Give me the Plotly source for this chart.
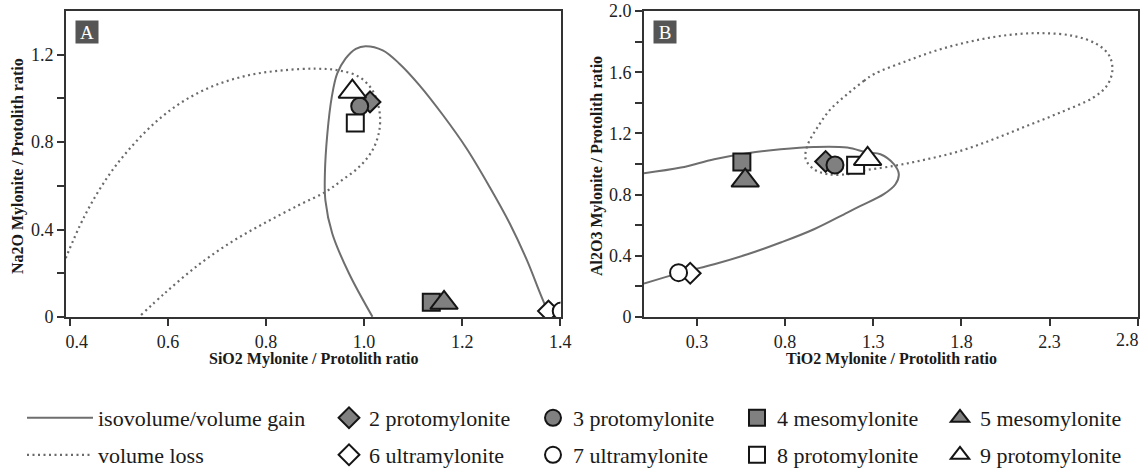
import plotly.graph_objects as go

# ---------------- data ----------------
samples = ["2 protomylonite", "3 protomylonite", "4 mesomylonite", "5 mesomylonite",
           "6 ultramylonite", "7 ultramylonite", "8 protomylonite", "9 protomylonite"]
sio2_ratio = [1.012, 0.991, 1.137, 1.163, 1.376, 1.402, 0.982, 0.976]
na2o_ratio = [0.984, 0.964, 0.067, 0.065, 0.027, 0.027, 0.888, 1.031]
tio2_ratio = [1.030, 1.083, 0.555, 0.574, 0.262, 0.196, 1.200, 1.268]
al2o3_ratio = [1.017, 0.994, 1.014, 0.892, 0.286, 0.290, 0.992, 1.034]

# isovolume / volume gain envelope, panel A (SiO2 vs Na2O)
gainA_x = [1.017, 0.969, 0.935, 0.921, 0.920, 0.925, 0.934, 0.945, 0.962, 0.983, 1.003,
           1.038, 1.072, 1.113, 1.161, 1.209, 1.256, 1.297, 1.332, 1.359, 1.376]
gainA_y = [0.001, 0.200, 0.382, 0.534, 0.656, 0.839, 1.006, 1.113, 1.182, 1.227, 1.239,
           1.220, 1.159, 1.060, 0.923, 0.771, 0.595, 0.428, 0.260, 0.108, 0.017]
# volume loss envelope, panel A
lossA_x = [0.387, 0.429, 0.477, 0.525, 0.579, 0.634, 0.696, 0.764, 0.832, 0.901, 0.949,
           0.990, 1.017, 1.031, 1.031, 1.017, 0.990, 0.955, 0.921, 0.867, 0.798, 0.730,
           0.662, 0.593, 0.545]
lossA_y = [0.245, 0.458, 0.641, 0.778, 0.900, 0.991, 1.060, 1.106, 1.128, 1.136, 1.128,
           1.098, 1.037, 0.946, 0.854, 0.763, 0.687, 0.626, 0.572, 0.512, 0.431, 0.344,
           0.238, 0.108, 0.009]
# isovolume / volume gain envelope, panel B (TiO2 vs Al2O3)
gainB_x = [0.0, 0.209, 0.398, 0.587, 0.775, 0.964, 1.153, 1.266, 1.341, 1.417, 1.445,
           1.426, 1.360, 1.228, 1.153, 0.964, 0.775, 0.587, 0.398, 0.209, 0.0]
gainB_y = [0.940, 0.977, 1.032, 1.071, 1.097, 1.112, 1.108, 1.075, 1.064, 0.999, 0.934,
           0.868, 0.803, 0.726, 0.683, 0.574, 0.487, 0.410, 0.345, 0.290, 0.218]
# volume loss envelope, panel B
lossB_x = [1.303, 1.247, 1.153, 1.058, 0.983, 0.926, 0.917, 0.964, 1.040, 1.153, 1.228,
           1.417, 1.606, 1.794, 1.983, 2.172, 2.360, 2.548, 2.624, 2.656, 2.639, 2.568,
           2.435, 2.247, 2.058, 1.869, 1.681, 1.492, 1.303]
lossB_y = [1.588, 1.544, 1.457, 1.359, 1.239, 1.119, 1.032, 0.966, 0.934, 0.934, 0.955,
           0.988, 1.032, 1.086, 1.163, 1.250, 1.337, 1.435, 1.511, 1.609, 1.708, 1.784,
           1.838, 1.856, 1.843, 1.806, 1.751, 1.675, 1.588]

xA_ticks = [0.4, 0.6, 0.8, 1.0, 1.2, 1.4]
yA_ticks = [0, 0.4, 0.8, 1.2]
yA_minor = [0.2, 0.6, 1.0]
xB_ticks = [0.3, 0.8, 1.3, 1.8, 2.3, 2.8]
yB_ticks = [0, 0.4, 0.8, 1.2, 1.6, 2.0]
yB_minor = [0.2, 0.6, 1.0, 1.4, 1.8]

# ---------------- styles ----------------
W, H = 1145, 476
SERIF = "'Liberation Serif', 'Times New Roman', Times, serif"
NB = "\u00a0"
symbols = ["diamond", "circle", "square", "triangle-up"] * 2
fills = ["#808080"] * 4 + ["#ffffff"] * 4
msizes = [16, 17, 17, 24] * 2
GAIN_COLOR = "#6e6e6e"
LOSS_COLOR = "#6a6a6a"
TICK_FONT = dict(family=SERIF, size=18, color="#222222")

def px_x(p):
    return p / W

def px_y(p):
    return (H - p) / H

fig = go.Figure()

# envelopes
fig.add_trace(go.Scatter(x=gainA_x, y=gainA_y, mode="lines", xaxis="x", yaxis="y",
                         line=dict(color=GAIN_COLOR, width=2, shape="spline", smoothing=1.0),
                         name="isovolume/volume gain", legend="legend", showlegend=True,
                         legendgroup="gain", hoverinfo="skip"))
fig.add_trace(go.Scatter(x=lossA_x, y=lossA_y, mode="lines", xaxis="x", yaxis="y",
                         line=dict(color=LOSS_COLOR, width=2.2, dash="2px,3.5px", shape="spline", smoothing=1.0),
                         name="volume loss", legend="legend2", showlegend=True,
                         legendgroup="loss", hoverinfo="skip"))
fig.add_trace(go.Scatter(x=gainB_x, y=gainB_y, mode="lines", xaxis="x2", yaxis="y2",
                         line=dict(color=GAIN_COLOR, width=2, shape="spline", smoothing=1.0),
                         name="isovolume/volume gain", showlegend=False,
                         legendgroup="gain", hoverinfo="skip"))
fig.add_trace(go.Scatter(x=lossB_x, y=lossB_y, mode="lines", xaxis="x2", yaxis="y2",
                         line=dict(color=LOSS_COLOR, width=2.2, dash="2px,3.5px", shape="spline", smoothing=1.0),
                         name="volume loss", showlegend=False,
                         legendgroup="loss", hoverinfo="skip"))

# samples
for i, name in enumerate(samples):
    mk = dict(symbol=symbols[i], size=msizes[i], color=fills[i],
              line=dict(color="#151515", width=2))
    fig.add_trace(go.Scatter(x=[sio2_ratio[i]], y=[na2o_ratio[i]], mode="markers",
                             xaxis="x", yaxis="y", marker=mk, name=name,
                             legend="legend%d" % (i + 3), legendgroup=name, showlegend=True))
    fig.add_trace(go.Scatter(x=[tio2_ratio[i]], y=[al2o3_ratio[i]], mode="markers",
                             xaxis="x2", yaxis="y2", marker=mk, name=name,
                             legendgroup=name, showlegend=False))

axis_common = dict(showline=True, linecolor="#333333", linewidth=2, mirror=True,
                   showgrid=False, zeroline=False, ticks="outside", ticklen=7,
                   tickwidth=1.5, tickcolor="#333333", tickfont=TICK_FONT)

# tick texts (first/last nudged inward like the original)
xA_text = ["%.1f" % v for v in xA_ticks]
xA_text[0] = NB * 3 + xA_text[0]
xB_text = ["%.1f" % v for v in xB_ticks]
last_B_label = xB_text[-1]
xB_text[-1] = ""   # drawn as an annotation, nudged inside the page edge

dom_y = [px_y(317), px_y(11)]
layout = dict(
    width=W, height=H,
    margin=dict(l=0, r=0, t=0, b=0, autoexpand=False),
    paper_bgcolor="white", plot_bgcolor="white",
    font=dict(family=SERIF, color="#222222"),
    xaxis=dict(domain=[px_x(66), px_x(560.5)], range=[0.392, 1.4005], anchor="y",
               tickvals=xA_ticks, ticktext=xA_text, **axis_common),
    yaxis=dict(domain=dom_y, range=[0, 1.4], anchor="x",
               tickvals=yA_ticks, ticktext=["0" if v == 0 else "%.1f" % v for v in yA_ticks],
               minor=dict(tickvals=yA_minor, ticks="outside", ticklen=7, tickwidth=1.5,
                          tickcolor="#333333"),
               **axis_common),
    xaxis2=dict(domain=[px_x(644), px_x(1138)], range=[0.0, 2.8015], anchor="y2",
                tickvals=xB_ticks, ticktext=xB_text, **axis_common),
    yaxis2=dict(domain=dom_y, range=[0, 2.001], anchor="x2",
                tickvals=yB_ticks, ticktext=["0" if v == 0 else "%.1f" % v for v in yB_ticks],
                minor=dict(tickvals=yB_minor, ticks="outside", ticklen=7, tickwidth=1.5,
                           tickcolor="#333333"),
                **axis_common),
    showlegend=True,
)

# legends: one per entry for exact placement
leg_font = dict(family=SERIF, size=22, color="#1a1a1a")
row_y = [px_y(418), px_y(455)]
col_x = [329, 533, 737, 940]
layout["legend"] = dict(x=px_x(22), y=row_y[0], xanchor="left", yanchor="middle",
                        bgcolor="rgba(0,0,0,0)", font=leg_font, itemwidth=66)
layout["legend2"] = dict(x=px_x(22), y=row_y[1], xanchor="left", yanchor="middle",
                         bgcolor="rgba(0,0,0,0)", font=leg_font, itemwidth=66)
for i in range(8):
    layout["legend%d" % (i + 3)] = dict(x=px_x(col_x[i % 4]), y=row_y[i // 4],
                                        xanchor="left", yanchor="middle",
                                        bgcolor="rgba(0,0,0,0)", font=leg_font)

title_font = dict(family=SERIF, size=16, color="#1a1a1a")
annotations = [
    dict(text="<b>SiO2 Mylonite / Protolith ratio</b>", x=px_x(313), y=px_y(359),
         xref="paper", yref="paper", showarrow=False, font=title_font,
         xanchor="center", yanchor="middle"),
    dict(text="<b>TiO2 Mylonite / Protolith ratio</b>", x=px_x(891), y=px_y(359),
         xref="paper", yref="paper", showarrow=False, font=title_font,
         xanchor="center", yanchor="middle"),
    dict(text="<b>Na2O Mylonite / Protolith ratio</b>", x=px_x(18), y=px_y(166),
         xref="paper", yref="paper", showarrow=False, font=title_font, textangle=-90,
         xanchor="center", yanchor="middle"),
    dict(text="<b>Al2O3 Mylonite / Protolith ratio</b>", x=px_x(597), y=px_y(166),
         xref="paper", yref="paper", showarrow=False, font=title_font, textangle=-90,
         xanchor="center", yanchor="middle"),
    dict(text=last_B_label, x=px_x(1141), y=px_y(340), xref="paper", yref="paper",
         showarrow=False, font=TICK_FONT, xanchor="right", yanchor="middle"),
]
for lab, xl in (("A", 75), ("B", 653)):
    annotations.append(dict(text=lab, x=px_x(xl), y=px_y(20), xref="paper", yref="paper",
                            showarrow=False, xanchor="left", yanchor="top",
                            width=22, height=22, bgcolor="#555555", borderpad=0,
                            font=dict(family=SERIF, size=19, color="white")))
layout["annotations"] = annotations

fig.update_layout(**layout)
fig.write_html("out.html")
